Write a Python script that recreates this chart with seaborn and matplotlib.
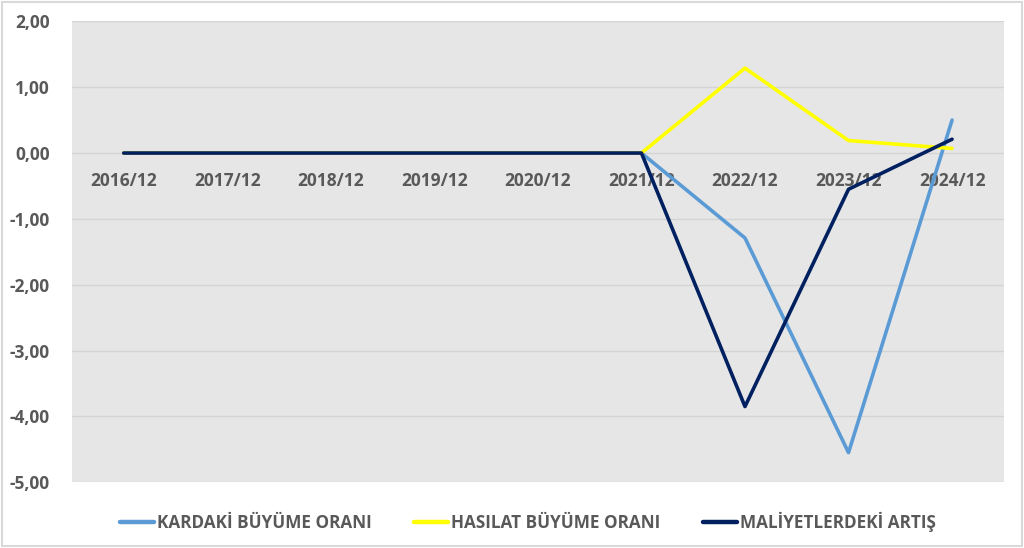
import matplotlib
matplotlib.use("Agg")
import matplotlib.pyplot as plt
import seaborn as sns
import pandas as pd
from matplotlib.ticker import FuncFormatter

# data
periods = ['2016/12', '2017/12', '2018/12', '2019/12', '2020/12',
           '2021/12', '2022/12', '2023/12', '2024/12']
kardaki = [0, 0, 0, 0, 0, 0, -1.29, -4.55, 0.50]
hasilat = [0, 0, 0, 0, 0, 0, 1.29, 0.19, 0.07]
maliyet = [0, 0, 0, 0, 0, 0, -3.85, -0.55, 0.21]

series_names = ['KARDAKİ BÜYÜME ORANI', 'HASILAT BÜYÜME ORANI', 'MALİYETLERDEKİ ARTIŞ']
colors = ['#5B9BD5', '#FFFF00', '#002060']

df = pd.DataFrame({'period': periods,
                   series_names[0]: kardaki,
                   series_names[1]: hasilat,
                   series_names[2]: maliyet})
long = df.melt(id_vars='period', var_name='seri', value_name='deger')

sns.set_style("white")
plt.rcParams['font.family'] = ['Open Sans', 'DejaVu Sans']

fig = plt.figure(figsize=(10.24, 5.48), dpi=100)
ax = fig.add_axes([0.0703, 0.12, 0.910, 0.841])

sns.lineplot(data=long, x='period', y='deger', hue='seri', hue_order=series_names,
             palette=colors, linewidth=2.6, sort=False, ax=ax)

ax.set_facecolor('#E6E6E6')
ax.set_ylim(-5, 2)
ax.set_xlim(-0.5, len(periods) - 0.5)
ax.set_yticks(range(-5, 3))
ax.yaxis.set_major_formatter(FuncFormatter(lambda v, p: f"{v:.2f}".replace('.', ',')))
ax.grid(axis='y', color='#D4D4D4', linewidth=1)
ax.set_axisbelow(True)
for s in ['top', 'right', 'left']:
    ax.spines[s].set_visible(False)
ax.spines['bottom'].set_position(('data', 0))
ax.spines['bottom'].set_visible(False)
ax.tick_params(axis='both', length=0, colors='#595959', labelsize=12.5)
ax.tick_params(axis='x', pad=14)
ax.tick_params(axis='y', pad=16)
for lab in ax.get_xticklabels() + ax.get_yticklabels():
    lab.set_fontweight('bold')
ax.set_xlabel('')
ax.set_ylabel('')

handles, labels = ax.get_legend_handles_labels()
for h in handles:
    h.set_linewidth(3.2)
ax.legend(handles, labels, loc='upper center', bbox_to_anchor=(0.489, -0.03),
          ncol=3, frameon=False, handlelength=2.0, handletextpad=0.15,
          columnspacing=2.5, prop={'weight': 'bold', 'size': 12.3})
for t in ax.get_legend().get_texts():
    t.set_color('#595959')

fig.patches.append(plt.Rectangle((0.002, 0.003), 0.996, 0.994, transform=fig.transFigure,
                                 fill=False, edgecolor='#D9D9D9', linewidth=1.5))

fig.savefig('out.png', dpi=100, facecolor='white')
